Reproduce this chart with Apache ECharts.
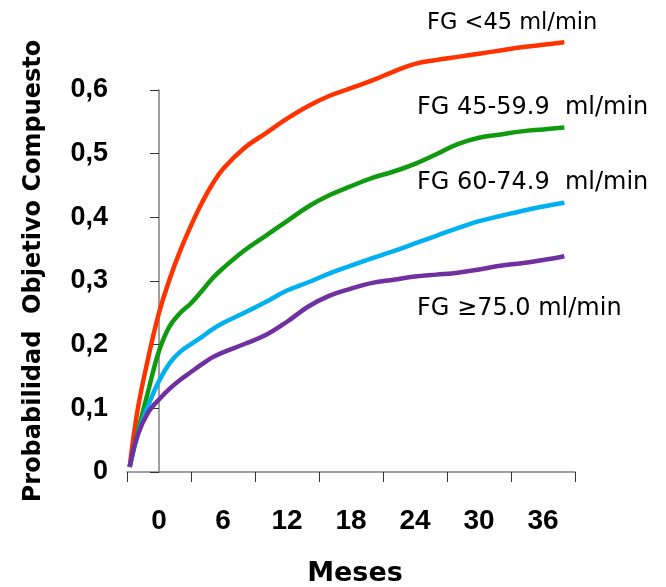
<!DOCTYPE html>
<html>
<head>
<meta charset="utf-8">
<script src="https://cdn.jsdelivr.net/npm/echarts@6/dist/echarts.min.js"></script>
<style>
  html, body { margin: 0; padding: 0; background: #fff; }
  #chart { width: 666px; height: 587px; }
</style>
</head>
<body>
<div id="chart"></div>
<script>
  // meses (x) y probabilidad acumulada por grupo de FG
  var months = [-2.75, -2, -1, 0, 1, 2, 3, 4, 5, 6, 8, 10, 12, 14, 16, 18, 20, 22, 24, 26, 28, 30, 32, 34, 36, 38];
  var xLabels = ['0', '6', '12', '18', '24', '30', '36'];
  var seriesNames = ['FG <45 ml/min', 'FG 45-59.9  ml/min', 'FG 60-74.9  ml/min', 'FG \u226575.0 ml/min'];

  var fgMenor45 = [0.008, 0.098, 0.180, 0.250, 0.303, 0.348, 0.387, 0.422, 0.452, 0.476, 0.509, 0.532, 0.555,
    0.575, 0.591, 0.603, 0.615, 0.629, 0.641, 0.647, 0.652, 0.657, 0.662, 0.667, 0.671, 0.675];
  var fg45a60 = [0.008, 0.062, 0.128, 0.190, 0.229, 0.250, 0.265, 0.284, 0.304, 0.320, 0.348, 0.371, 0.394,
    0.417, 0.435, 0.449, 0.462, 0.472, 0.484, 0.499, 0.515, 0.525, 0.530, 0.535, 0.538, 0.541];
  var fg60a75 = [0.008, 0.058, 0.105, 0.143, 0.171, 0.189, 0.201, 0.212, 0.224, 0.234, 0.250, 0.267, 0.285,
    0.298, 0.312, 0.324, 0.336, 0.347, 0.359, 0.371, 0.383, 0.394, 0.402, 0.410, 0.417, 0.423];
  var fgMayor75 = [0.008, 0.058, 0.094, 0.114, 0.131, 0.145, 0.157, 0.169, 0.180, 0.188, 0.201, 0.215, 0.236,
    0.260, 0.277, 0.288, 0.297, 0.302, 0.307, 0.310, 0.313, 0.318, 0.324, 0.328, 0.333, 0.339];

  var colors = ['#FF3300', '#109A10', '#00B0F0', '#7030A0'];
  var allValues = [fgMenor45, fg45a60, fg60a75, fgMayor75];

  function pairs(vals) {
    var out = [];
    for (var i = 0; i < months.length; i++) {
      out.push([months[i], vals[i]]);
    }
    return out;
  }

  var chart = echarts.init(document.getElementById('chart'));

  var series = [];
  for (var s = 0; s < allValues.length; s++) {
    series.push({
      name: seriesNames[s],
      type: 'line',
      xAxisIndex: 1,
      data: pairs(allValues[s]),
      smooth: 0.4,
      symbol: 'none',
      clip: false,
      lineStyle: { color: colors[s], width: 4.5 }
    });
  }

  var labelStyle = { fill: '#000', fontSize: 24, fontFamily: 'DejaVu Sans', verticalAlign: 'middle' };
  function fgLabel(x, y, text, size) {
    return {
      type: 'text', x: x, y: y,
      style: Object.assign({}, labelStyle, { text: text, fontSize: size })
    };
  }

  var option = {
    backgroundColor: '#ffffff',
    animation: false,
    grid: { left: 127, right: 91, top: 90, bottom: 115 },
    xAxis: [{
      type: 'category',
      data: xLabels,
      boundaryGap: true,
      axisLine: { lineStyle: { color: '#808080', width: 1.5 } },
      axisTick: { show: true, length: 10, lineStyle: { color: '#333' } },
      axisLabel: {
        color: '#000', fontSize: 28, fontWeight: 'bold',
        fontFamily: 'Liberation Sans', margin: 35
      },
      splitLine: { show: false }
    }, {
      type: 'value',
      min: -3,
      max: 39,
      show: false
    }],
    yAxis: {
      type: 'value',
      min: 0,
      max: 0.6,
      interval: 0.1,
      axisLine: { show: true, lineStyle: { color: '#808080', width: 1.5 } },
      axisTick: { show: true, length: 9, lineStyle: { color: '#333' } },
      axisLabel: {
        color: '#000', fontSize: 27, fontWeight: 'bold',
        fontFamily: 'Liberation Sans', margin: 19,
        formatter: function (v) {
          return v === 0 ? '0' : v.toFixed(1).replace('.', ',');
        }
      },
      splitLine: { show: false }
    },
    graphic: [
      {
        type: 'text', x: 34, y: 271, rotation: Math.PI / 2,
        style: {
          text: 'Probabilidad  Objetivo Compuesto', fill: '#000',
          font: 'bold 24px "DejaVu Sans"', align: 'center', verticalAlign: 'middle'
        }
      },
      {
        type: 'text', x: 355, y: 574,
        style: {
          text: 'Meses', fill: '#000',
          font: 'bold 27px "DejaVu Sans"', align: 'center', verticalAlign: 'middle'
        }
      },
      fgLabel(427, 23, seriesNames[0], 22.5),
      fgLabel(417, 108, seriesNames[1], 24),
      fgLabel(417, 182.5, seriesNames[2], 24),
      fgLabel(417, 309, seriesNames[3], 24)
    ],
    series: series
  };

  chart.setOption(option);
</script>
</body>
</html>
